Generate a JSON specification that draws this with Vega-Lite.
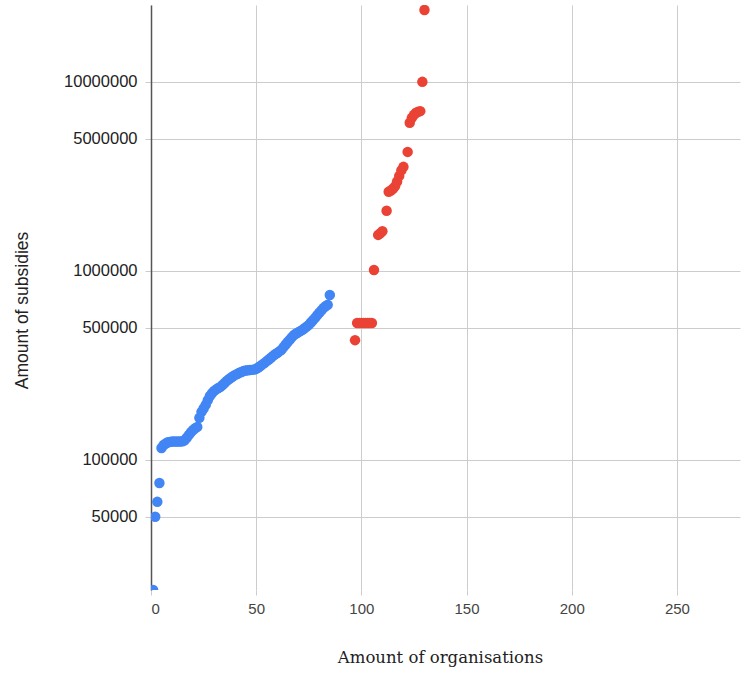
{
  "$schema": "https://vega.github.io/schema/vega-lite/v6.json",
  "width": 589,
  "height": 585,
  "autosize": "none",
  "padding": {"left": 151, "top": 5, "right": 9, "bottom": 85},
  "background": "white",
  "config": {"view": {"stroke": null}},
  "data": {
    "values": [
      {"x": 1, "y": 20500, "g": "a"},
      {"x": 2, "y": 50000, "g": "a"},
      {"x": 3, "y": 60000, "g": "a"},
      {"x": 4, "y": 75500, "g": "a"},
      {"x": 5, "y": 115700, "g": "a"},
      {"x": 6, "y": 120000, "g": "a"},
      {"x": 7, "y": 122000, "g": "a"},
      {"x": 8, "y": 124000, "g": "a"},
      {"x": 9, "y": 124500, "g": "a"},
      {"x": 10, "y": 125000, "g": "a"},
      {"x": 11, "y": 125000, "g": "a"},
      {"x": 12, "y": 125000, "g": "a"},
      {"x": 13, "y": 125000, "g": "a"},
      {"x": 14, "y": 125000, "g": "a"},
      {"x": 15, "y": 125500, "g": "a"},
      {"x": 16, "y": 127000, "g": "a"},
      {"x": 17, "y": 131000, "g": "a"},
      {"x": 18, "y": 135600, "g": "a"},
      {"x": 19, "y": 140000, "g": "a"},
      {"x": 20, "y": 144000, "g": "a"},
      {"x": 21, "y": 147000, "g": "a"},
      {"x": 22, "y": 149500, "g": "a"},
      {"x": 23, "y": 166900, "g": "a"},
      {"x": 24, "y": 179500, "g": "a"},
      {"x": 25, "y": 187000, "g": "a"},
      {"x": 26, "y": 195400, "g": "a"},
      {"x": 27, "y": 207000, "g": "a"},
      {"x": 28, "y": 218000, "g": "a"},
      {"x": 29, "y": 225000, "g": "a"},
      {"x": 30, "y": 231800, "g": "a"},
      {"x": 31, "y": 236000, "g": "a"},
      {"x": 32, "y": 240000, "g": "a"},
      {"x": 33, "y": 243300, "g": "a"},
      {"x": 34, "y": 249000, "g": "a"},
      {"x": 35, "y": 255000, "g": "a"},
      {"x": 36, "y": 261800, "g": "a"},
      {"x": 37, "y": 267000, "g": "a"},
      {"x": 38, "y": 272000, "g": "a"},
      {"x": 39, "y": 277000, "g": "a"},
      {"x": 40, "y": 281700, "g": "a"},
      {"x": 41, "y": 285000, "g": "a"},
      {"x": 42, "y": 289000, "g": "a"},
      {"x": 43, "y": 292000, "g": "a"},
      {"x": 44, "y": 295600, "g": "a"},
      {"x": 45, "y": 297000, "g": "a"},
      {"x": 46, "y": 298000, "g": "a"},
      {"x": 47, "y": 299000, "g": "a"},
      {"x": 48, "y": 299400, "g": "a"},
      {"x": 49, "y": 301000, "g": "a"},
      {"x": 50, "y": 303000, "g": "a"},
      {"x": 51, "y": 308000, "g": "a"},
      {"x": 52, "y": 314000, "g": "a"},
      {"x": 53, "y": 320000, "g": "a"},
      {"x": 54, "y": 326000, "g": "a"},
      {"x": 55, "y": 333000, "g": "a"},
      {"x": 56, "y": 340000, "g": "a"},
      {"x": 57, "y": 347000, "g": "a"},
      {"x": 58, "y": 355000, "g": "a"},
      {"x": 59, "y": 362000, "g": "a"},
      {"x": 60, "y": 368000, "g": "a"},
      {"x": 61, "y": 375000, "g": "a"},
      {"x": 62, "y": 382000, "g": "a"},
      {"x": 63, "y": 395000, "g": "a"},
      {"x": 64, "y": 408000, "g": "a"},
      {"x": 65, "y": 420800, "g": "a"},
      {"x": 66, "y": 433000, "g": "a"},
      {"x": 67, "y": 446000, "g": "a"},
      {"x": 68, "y": 458500, "g": "a"},
      {"x": 69, "y": 466000, "g": "a"},
      {"x": 70, "y": 473000, "g": "a"},
      {"x": 71, "y": 480000, "g": "a"},
      {"x": 72, "y": 487500, "g": "a"},
      {"x": 73, "y": 497000, "g": "a"},
      {"x": 74, "y": 507000, "g": "a"},
      {"x": 75, "y": 518000, "g": "a"},
      {"x": 76, "y": 533000, "g": "a"},
      {"x": 77, "y": 548000, "g": "a"},
      {"x": 78, "y": 564000, "g": "a"},
      {"x": 79, "y": 582000, "g": "a"},
      {"x": 80, "y": 600000, "g": "a"},
      {"x": 81, "y": 618000, "g": "a"},
      {"x": 82, "y": 637000, "g": "a"},
      {"x": 83, "y": 650000, "g": "a"},
      {"x": 84, "y": 661000, "g": "a"},
      {"x": 85, "y": 746000, "g": "a"},
      {"x": 97, "y": 430000, "g": "b"},
      {"x": 98, "y": 530000, "g": "b"},
      {"x": 99, "y": 530000, "g": "b"},
      {"x": 100, "y": 530000, "g": "b"},
      {"x": 101, "y": 530000, "g": "b"},
      {"x": 102, "y": 530000, "g": "b"},
      {"x": 103, "y": 530000, "g": "b"},
      {"x": 104, "y": 530000, "g": "b"},
      {"x": 105, "y": 530000, "g": "b"},
      {"x": 106, "y": 1010000, "g": "b"},
      {"x": 108, "y": 1550000, "g": "b"},
      {"x": 109, "y": 1580000, "g": "b"},
      {"x": 110, "y": 1620000, "g": "b"},
      {"x": 112, "y": 2080000, "g": "b"},
      {"x": 113, "y": 2620000, "g": "b"},
      {"x": 114, "y": 2660000, "g": "b"},
      {"x": 115, "y": 2720000, "g": "b"},
      {"x": 116, "y": 2800000, "g": "b"},
      {"x": 117, "y": 2970000, "g": "b"},
      {"x": 118, "y": 3180000, "g": "b"},
      {"x": 119, "y": 3400000, "g": "b"},
      {"x": 120, "y": 3550000, "g": "b"},
      {"x": 122, "y": 4260000, "g": "b"},
      {"x": 123, "y": 6070000, "g": "b"},
      {"x": 124, "y": 6450000, "g": "b"},
      {"x": 125, "y": 6690000, "g": "b"},
      {"x": 126, "y": 6860000, "g": "b"},
      {"x": 127, "y": 6940000, "g": "b"},
      {"x": 128, "y": 7000000, "g": "b"},
      {"x": 129, "y": 10000000, "g": "b"},
      {"x": 130, "y": 24000000, "g": "b"}
    ]
  },
  "mark": {"type": "circle", "size": 110, "opacity": 1, "clip": true},
  "encoding": {
    "x": {
      "field": "x",
      "type": "quantitative",
      "scale": {"domain": [0, 280], "nice": false, "zero": false},
      "axis": {
        "title": "Amount of organisations",
        "titleFont": "DejaVu Serif",
        "titleFontSize": 16.5,
        "titleFontWeight": "normal",
        "titleColor": "#222222",
        "titleX": 289,
        "titleY": 67,
        "titleAlign": "center",
        "titleBaseline": "middle",
        "values": [0, 50, 100, 150, 200, 250],
        "domain": false,
        "ticks": true,
        "tickColor": "#cccccc",
        "tickSize": 5,
        "grid": true,
        "gridColor": "#cccccc",
        "labelFont": "Liberation Sans",
        "labelFontSize": 15,
        "labelColor": "#444444",
        "labelPadding": 6
      }
    },
    "y": {
      "field": "y",
      "type": "quantitative",
      "scale": {"type": "log", "domain": [20500, 25500000], "nice": false},
      "axis": {
        "title": "Amount of subsidies",
        "titleFont": "Liberation Sans",
        "titleFontSize": 17.5,
        "titleFontWeight": "normal",
        "titleColor": "#222222",
        "titleX": -129,
        "titleY": 305,
        "titleAngle": -90,
        "titleAlign": "center",
        "titleBaseline": "middle",
        "values": [50000, 100000, 500000, 1000000, 5000000, 10000000],
        "format": "d",
        "domain": true,
        "domainColor": "#555555",
        "domainWidth": 1.5,
        "ticks": true,
        "tickColor": "#cccccc",
        "tickSize": 6,
        "grid": true,
        "gridColor": "#cccccc",
        "labelFont": "Liberation Sans",
        "labelFontSize": 16.5,
        "labelColor": "#222222",
        "labelPadding": 8
      }
    },
    "color": {
      "field": "g",
      "type": "nominal",
      "scale": {"domain": ["a", "b"], "range": ["#4285F4", "#EA4335"]},
      "legend": null
    }
  }
}
